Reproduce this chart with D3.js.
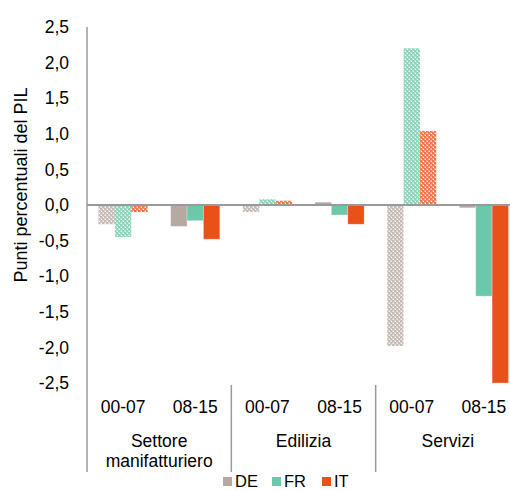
<!DOCTYPE html>
<html><head><meta charset="utf-8">
<script src="https://cdn.jsdelivr.net/npm/d3@7"></script>
<style>body{margin:0;background:#fff}svg{display:block;font-family:"Liberation Sans",Arial,sans-serif}</style>
</head><body>
<svg id="c" width="510" height="491"></svg>
<script>
const groups = ["Settore\nmanifatturiero", "Edilizia", "Servizi"];
const periods = ["00-07", "08-15"];
const series = ["DE", "FR", "IT"];
const colors = ["#b5a9a2", "#6bc8a8", "#e85118"];
// values per group/period, order DE, FR, IT
const DE = [-0.27, -0.30, -0.10, 0.04, -1.98, -0.04];
const FR = [-0.45, -0.22, 0.08, -0.14, 2.20, -1.28];
const IT = [-0.10, -0.48, 0.06, -0.27, 1.04, -2.50];
const yTicks = [2.5, 2.0, 1.5, 1.0, 0.5, 0.0, -0.5, -1.0, -1.5, -2.0, -2.5];

const FS = 17.5;
const svg = d3.select("#c");
const defs = svg.append("defs");
colors.forEach((c, i) => {
  const p = defs.append("pattern").attr("id", "pat" + i).attr("patternUnits", "userSpaceOnUse")
    .attr("width", 4).attr("height", 4);
  p.append("rect").attr("width", 4).attr("height", 4).attr("fill", c).attr("opacity", 0.55);
  p.append("rect").attr("x", 0).attr("y", 0).attr("width", 2).attr("height", 2).attr("fill", c).attr("opacity", 0.5);
  p.append("rect").attr("x", 2).attr("y", 2).attr("width", 2).attr("height", 2).attr("fill", c).attr("opacity", 0.5);
  p.append("rect").attr("x", 1).attr("y", 3).attr("width", 1).attr("height", 1).attr("fill", "#fff").attr("opacity", 0.9);
  p.append("rect").attr("x", 3).attr("y", 1).attr("width", 1).attr("height", 1).attr("fill", "#fff").attr("opacity", 0.9);
});

const x0 = 87, x1 = 520;
const y = d3.scaleLinear().domain([-2.5, 2.5]).range([383, 27]);
const slots = [];
groups.forEach((g, gi) => periods.forEach((p, pi) => slots.push(gi + "|" + p)));
const xs = d3.scaleBand().domain(slots).range([x0, x1]);
const xg = d3.scaleBand().domain(groups).range([x0, x1]);
const inner = d3.scaleBand().domain(series).range([11.5, xs.bandwidth() - 11.5]);

const vals = [DE, FR, IT];
slots.forEach((s, si) => {
  const pi = si % 2;
  series.forEach((ser, k) => {
    const v = vals[k][si];
    svg.append("rect")
      .attr("x", xs(s) + inner(ser))
      .attr("width", inner.bandwidth())
      .attr("y", y(Math.max(0, v)))
      .attr("height", Math.abs(y(v) - y(0)))
      .attr("fill", pi === 0 ? "url(#pat" + k + ")" : colors[k])
      .attr("stroke", pi === 0 ? "none" : "#fff").attr("stroke-opacity", 0.35).attr("stroke-width", 0.8);
  });
});

// zero line
svg.append("line").attr("x1", x0).attr("x2", x1).attr("y1", y(0)).attr("y2", y(0))
  .attr("stroke", "#9a9a9a").attr("stroke-width", 2);
// y axis line
svg.append("line").attr("x1", x0).attr("x2", x0).attr("y1", y(2.5)).attr("y2", 472)
  .attr("stroke", "#9a9a9a").attr("stroke-width", 1.5);
// group separators
groups.slice(1).forEach(g => {
  svg.append("line").attr("x1", xg(g)).attr("x2", xg(g)).attr("y1", 385).attr("y2", 472)
    .attr("stroke", "#9a9a9a").attr("stroke-width", 1.5);
});

// y tick labels
const yAxis = d3.axisLeft(y).tickValues(yTicks).tickSize(0).tickPadding(18)
  .tickFormat(d => d3.format(".1f")(d).replace(".", ",").replace("−", "-"));
const ga = svg.append("g").attr("transform", `translate(${x0},0)`).call(yAxis);
ga.select(".domain").remove();
ga.selectAll("text").attr("font-size", FS).attr("fill", "#000").attr("font-family", "Liberation Sans, Arial, sans-serif");

// period labels
slots.forEach(s => {
  svg.append("text").attr("x", xs(s) + xs.bandwidth() / 2).attr("y", 413)
    .attr("text-anchor", "middle").attr("font-size", FS).text(s.split("|")[1]);
});
// group labels
groups.forEach(g => {
  const lines = g.split("\n");
  lines.forEach((l, i) => {
    svg.append("text").attr("x", xg(g) + xg.bandwidth() / 2).attr("y", 447 + i * 20)
      .attr("text-anchor", "middle").attr("font-size", FS).text(l);
  });
});

// y title
svg.append("text").attr("transform", "translate(27,185) rotate(-90)")
  .attr("text-anchor", "middle").attr("font-size", 18).text("Punti percentuali del PIL");

// legend
const legX = [223, 272, 322];
series.forEach((s, i) => {
  svg.append("rect").attr("x", legX[i]).attr("y", 477).attr("width", 9).attr("height", 9).attr("fill", colors[i]);
  svg.append("text").attr("x", legX[i] + 12).attr("y", 487).attr("font-size", 16.5).text(s);
});
</script>
</body></html>
